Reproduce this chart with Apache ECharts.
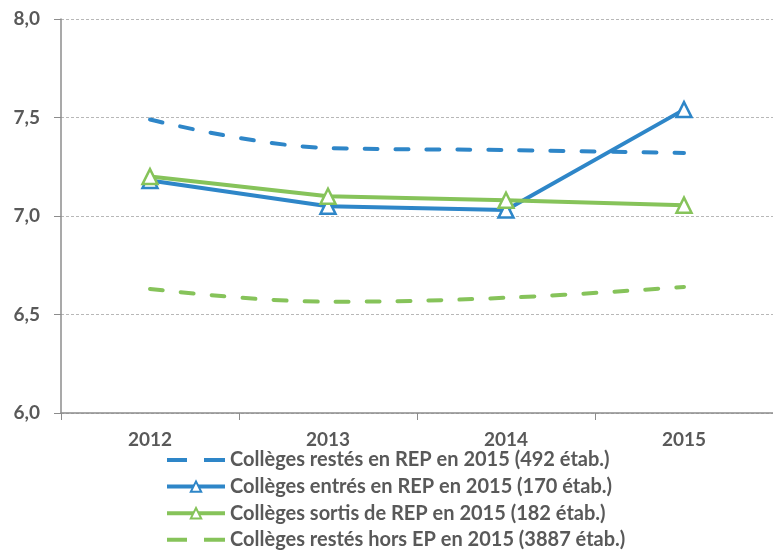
<!DOCTYPE html>
<html>
<head>
<meta charset="utf-8">
<script src="https://cdn.jsdelivr.net/npm/echarts@6/dist/echarts.min.js"></script>
<style>
  html, body { margin: 0; padding: 0; background: #fff; }
  #main { width: 773px; height: 552px; }
</style>
</head>
<body>
<div id="main"></div>
<script>
// données
var years = ['2012', '2013', '2014', '2015'];
var restesRep = [7.49, 7.345, 7.335, 7.32];
var entresRep = [7.18, 7.05, 7.03, 7.54];
var sortisRep = [7.20, 7.10, 7.08, 7.055];
var restesHorsEp = [6.63, 6.565, 6.585, 6.64];

var blue = '#2E86C8';
var green = '#86C35A';
var grey = '#595959';
var font = 'Lato';

// icône de légende en tirets (deux traits)
var dashIcon = 'path://M0,5h20v4h-20z M37,5h21v4h-21z';

var myChart = echarts.init(document.getElementById('main'));

var option = {
  animation: false,
  textStyle: { fontFamily: font },
  grid: { left: 61, top: 19, right: -2, bottom: 139 },
  legend: {
    orient: 'vertical',
    left: 160,
    top: 449,
    padding: [0, 5, 0, 5],
    itemGap: 4.6,
    itemWidth: 58,
    itemHeight: 13,
    textStyle: { fontSize: 20, lineHeight: 22, fontWeight: 'bold', color: grey, fontFamily: font },
    data: [
      { name: 'Collèges restés en REP en 2015 (492 étab.)', icon: dashIcon },
      { name: 'Collèges entrés en REP en 2015 (170 étab.)', lineStyle: { width: 4 } },
      { name: 'Collèges sortis de REP en 2015 (182 étab.)', lineStyle: { width: 4 } },
      { name: 'Collèges restés hors EP en 2015 (3887 étab.)', icon: dashIcon }
    ]
  },
  xAxis: {
    type: 'category',
    data: years,
    axisLine: { lineStyle: { color: '#8c8c8c', width: 1.5 } },
    axisTick: { show: true, length: 7, lineStyle: { color: '#8c8c8c' } },
    axisLabel: { fontSize: 19, fontWeight: 'bold', color: grey, margin: 17, fontFamily: font }
  },
  yAxis: {
    type: 'value',
    min: 6,
    max: 8,
    interval: 0.5,
    axisLine: { show: true, lineStyle: { color: '#8c8c8c', width: 1.5 } },
    axisTick: { show: true, length: 7, lineStyle: { color: '#8c8c8c' } },
    axisLabel: {
      fontSize: 19, fontWeight: 'bold', color: grey, margin: 21, fontFamily: font,
      formatter: function (v) { return v.toFixed(1).replace('.', ','); }
    },
    splitLine: { lineStyle: { color: '#b8b8b8', type: [3, 2], width: 1 } }
  },
  series: [
    {
      name: 'Collèges restés en REP en 2015 (492 étab.)',
      type: 'line',
      data: restesRep,
      smooth: 0.4,
      symbol: 'none',
      lineStyle: { color: blue, width: 4, type: [13, 18], cap: 'round' },
      itemStyle: { color: blue }
    },
    {
      name: 'Collèges entrés en REP en 2015 (170 étab.)',
      type: 'line',
      data: entresRep,
      symbol: 'triangle',
      symbolSize: 15,
      lineStyle: { color: blue, width: 4 },
      itemStyle: { color: '#fff', borderColor: blue, borderWidth: 2.5 }
    },
    {
      name: 'Collèges sortis de REP en 2015 (182 étab.)',
      type: 'line',
      data: sortisRep,
      symbol: 'triangle',
      symbolSize: 15,
      lineStyle: { color: green, width: 4 },
      itemStyle: { color: '#fff', borderColor: green, borderWidth: 2.5 }
    },
    {
      name: 'Collèges restés hors EP en 2015 (3887 étab.)',
      type: 'line',
      data: restesHorsEp,
      smooth: 0.4,
      symbol: 'none',
      lineStyle: { color: green, width: 4, type: [13, 18], cap: 'round' },
      itemStyle: { color: green }
    }
  ]
};

myChart.setOption(option);
</script>
</body>
</html>
